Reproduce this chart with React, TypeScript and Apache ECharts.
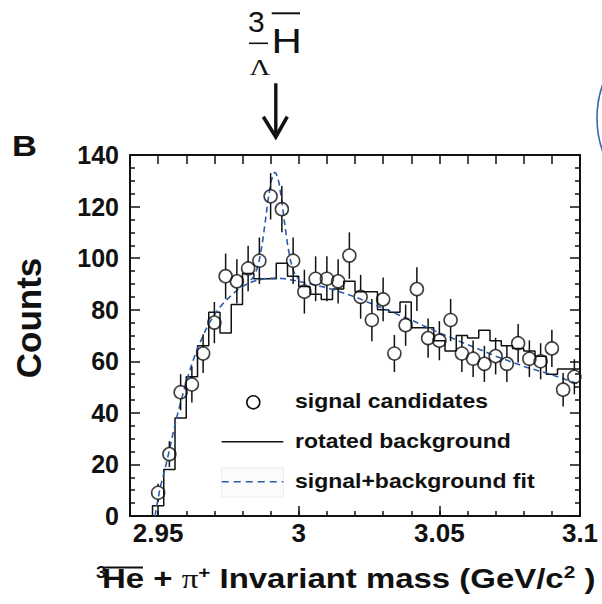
import React, { useEffect, useRef } from "react";
import * as echarts from "echarts";

// ---- data ----
const massCenters = [
  2.95, 2.954, 2.958, 2.962, 2.966, 2.97, 2.974, 2.978, 2.982, 2.986, 2.99, 2.994, 2.998,
  3.002, 3.006, 3.01, 3.014, 3.018, 3.022, 3.026, 3.03, 3.034, 3.038, 3.042, 3.046,
  3.05, 3.054, 3.058, 3.062, 3.066, 3.07, 3.074, 3.078, 3.082, 3.086, 3.09, 3.094, 3.098,
];
const signalCounts = [
  9, 24, 48, 51, 63, 75, 93, 91, 96, 99, 124, 119, 99,
  87, 92, 92, 91, 101, 85, 76, 84, 63, 74, 88, 69,
  68, 76, 63, 61, 59, 62, 59, 67, 61, 60, 65, 49, 54,
];
const signalErrors = [
  3.5, 5, 7, 7, 7.5, 8, 8.8, 8.6, 8.8, 9, 9, 9, 9,
  8.5, 8.7, 8.7, 8.6, 9, 8.5, 8.2, 8.5, 7.2, 8, 8.5, 7.6,
  7.6, 8.2, 7.2, 7.1, 7, 7.1, 7, 7.5, 7.1, 7, 7.2, 6.5, 6.8,
];
const rotatedBackground = [
  4, 18, 38, 54, 66, 79, 71, 82, 94, 92, 92, 98, 93,
  89, 86, 84, 88, 91, 87, 87, 80, 79, 83, 73, 73,
  68, 64, 70, 69, 72, 68, 66, 65, 64, 62, 55, 57, 57,
];
const binWidth = 0.004;

const fitBgMass = [
  2.9489, 2.9507, 2.9524, 2.954, 2.9555, 2.957, 2.9585, 2.96, 2.962, 2.964, 2.966, 2.968,
  2.97, 2.972, 2.974, 2.976, 2.978, 2.98, 2.982, 2.984, 2.986, 2.988, 2.99, 2.992, 2.995,
  3.0, 3.01, 3.02, 3.03, 3.04, 3.05, 3.06, 3.07, 3.08, 3.09, 3.1,
];
const fitBgCounts = [
  0, 11, 18, 25.5, 33, 40, 46, 52, 59, 65, 70, 74.5,
  78, 81, 83.5, 85.5, 87.5, 89, 90.2, 91, 91.6, 92, 92.2, 92.3, 92,
  91, 88.5, 85, 80.5, 76, 71, 66.5, 62, 58, 54.8, 51,
];
const fitPeakMass = [
  2.983, 2.984, 2.985, 2.986, 2.987, 2.988, 2.989, 2.99, 2.991, 2.9915, 2.992, 2.993,
  2.994, 2.995, 2.996, 2.997, 2.998, 2.999, 3.0,
];
const fitPeakCounts = [
  91.5, 92.8, 95.3, 99.4, 105.4, 113.3, 121.8, 129, 132.8, 133.3, 132.8, 129.2,
  121.9, 113.3, 105.4, 99.4, 95.4, 93, 91.8,
];
const xMajorTicks = [2.95, 3, 3.05, 3.1];

const SANS = '"Liberation Sans", Arial, Helvetica, sans-serif';
const SERIF = '"Liberation Serif", "Times New Roman", serif';
const INK = "#111";
const BLUE = "#2d5ca8";

export default function App() {
  const ref = useRef<HTMLDivElement>(null);

  useEffect(() => {
    const chart = echarts.init(ref.current!, null, { renderer: "svg" });

    const histData: number[][] = [[massCenters[0] - binWidth / 2, 0]];
    massCenters.forEach((m, i) => histData.push([m - binWidth / 2, rotatedBackground[i]]));
    histData.push([
      massCenters[massCenters.length - 1] + binWidth / 2,
      rotatedBackground[rotatedBackground.length - 1],
    ]);
    const pointData = massCenters.map((m, i) => [m, signalCounts[i], signalErrors[i]]);
    const bgFit = fitBgMass.map((m, i) => [m, fitBgCounts[i]]);
    const peakFit = fitPeakMass.map((m, i) => [m, fitPeakCounts[i]]);

    const axisLine = { show: true, onZero: false, lineStyle: { color: INK, width: 2 } };
    const tickStyle = { color: INK, width: 1.5 };
    const labelStyle = { color: INK, fontWeight: "bold" as const, fontFamily: SANS };
    const gridBox = { left: 130, top: 155, width: 450, height: 361 };
    const R = 6.5;

    const option: any = {
      animation: false,
      backgroundColor: "#fff",
      grid: [gridBox, gridBox],
      xAxis: [
        {
          type: "value", gridIndex: 0, position: "bottom", min: 2.94, max: 3.1, interval: 0.01,
          axisLine, axisTick: { show: true, inside: true, length: 5, lineStyle: tickStyle },
          axisLabel: {
            show: true, customValues: xMajorTicks, margin: 4, fontSize: 26, ...labelStyle,
            formatter: (v: number) => String(parseFloat(Number(v).toFixed(2))),
          },
          splitLine: { show: false },
        },
        {
          type: "value", gridIndex: 0, position: "top", min: 2.94, max: 3.1, interval: 0.01,
          axisLine, axisTick: { show: true, inside: true, length: 9, lineStyle: tickStyle },
          axisLabel: { show: false }, splitLine: { show: false },
        },
        {
          type: "value", gridIndex: 1, position: "bottom", min: 2.94, max: 3.1,
          axisLine: { show: false },
          axisTick: { show: true, inside: true, length: 10, customValues: xMajorTicks, lineStyle: tickStyle },
          axisLabel: { show: false }, splitLine: { show: false },
        },
      ],
      yAxis: [
        {
          type: "value", gridIndex: 0, position: "left", min: 0, max: 140, interval: 20,
          axisLine, axisTick: { show: true, inside: true, length: 10, lineStyle: tickStyle },
          minorTick: { show: true, splitNumber: 4, length: 5, lineStyle: tickStyle },
          axisLabel: { show: true, margin: 11, padding: [5, 0, 0, 0], fontSize: 25, ...labelStyle },
          splitLine: { show: false }, minorSplitLine: { show: false },
        },
        {
          type: "value", gridIndex: 0, position: "right", min: 0, max: 140, interval: 20,
          axisLine, axisTick: { show: true, inside: true, length: 10, lineStyle: tickStyle },
          minorTick: { show: true, splitNumber: 4, length: 5, lineStyle: tickStyle },
          axisLabel: { show: false }, splitLine: { show: false }, minorSplitLine: { show: false },
        },
        { type: "value", gridIndex: 1, min: 0, max: 140, show: false, splitLine: { show: false } },
      ],
      series: [
        {
          name: "rotated background", type: "line", xAxisIndex: 0, yAxisIndex: 0,
          data: histData, step: "end", symbol: "none", silent: true,
          lineStyle: { color: INK, width: 1.5 }, z: 2,
        },
        {
          name: "background fit", type: "line", xAxisIndex: 0, yAxisIndex: 0,
          data: bgFit, symbol: "none", silent: true,
          lineStyle: { color: BLUE, width: 1.6, type: [6, 4] }, z: 3,
        },
        {
          name: "signal+background fit", type: "line", xAxisIndex: 0, yAxisIndex: 0,
          data: peakFit, symbol: "none", silent: true,
          lineStyle: { color: BLUE, width: 1.6, type: [6, 4] }, z: 3,
        },
        {
          name: "errors", type: "custom", xAxisIndex: 0, yAxisIndex: 0, silent: true,
          data: pointData, encode: { x: 0, y: 1 }, z: 4,
          renderItem: (params: any, api: any) => {
            const x = api.value(0), y = api.value(1), e = api.value(2);
            const c = api.coord([x, y]);
            const t = api.coord([x, y + e]);
            const b = api.coord([x, y - e]);
            const children: any[] = [];
            const st = { stroke: INK, lineWidth: 1.5 };
            if (t[1] < c[1] - R) children.push({ type: "line", shape: { x1: c[0], y1: t[1], x2: c[0], y2: c[1] - R }, style: st });
            if (b[1] > c[1] + R) children.push({ type: "line", shape: { x1: c[0], y1: c[1] + R, x2: c[0], y2: b[1] }, style: st });
            return { type: "group", children };
          },
        },
        {
          name: "signal candidates", type: "scatter", xAxisIndex: 0, yAxisIndex: 0,
          data: pointData.map((d) => [d[0], d[1]]), symbol: "circle", symbolSize: 13, silent: true,
          itemStyle: { color: "rgba(0,0,0,0)", borderColor: INK, borderWidth: 1.6 }, z: 5,
        },
      ],
      graphic: [
        // panel letter
        { type: "text", x: 12, y: 145.6, scaleX: 1.15, style: { text: "B", fontSize: 30, fontWeight: "bold", fontFamily: SANS, fill: INK, align: "left", verticalAlign: "middle" } },
        // y-axis title
        { type: "text", x: 28.5, y: 318, rotation: Math.PI / 2, style: { text: "Counts", fontSize: 35, fontWeight: "bold", fontFamily: SANS, fill: INK, align: "center", verticalAlign: "middle" } },
        // x-axis title
        { type: "text", x: 96, y: 572, scaleX: 1.1, style: { text: "3", fontSize: 17, fontWeight: "bold", fontFamily: SANS, fill: INK, align: "left", verticalAlign: "middle" } },
        {
          type: "text", x: 102, y: 578.6, scaleX: 1.22,
          style: {
            text: "{b|He + }{pi|\u03c0}{s|+}{b| Invariant mass (GeV/c}{s|2}{b| )}",
            align: "left", verticalAlign: "middle", fill: INK,
            rich: {
              b: { fontSize: 27, fontWeight: "bold", fontFamily: SANS, fill: INK, lineHeight: 30 },
              pi: { fontSize: 27, fontFamily: SERIF, fill: INK, lineHeight: 30 },
              s: { fontSize: 17, fontWeight: "bold", fontFamily: SANS, fill: INK, lineHeight: 16, verticalAlign: "top" },
            },
          },
        },
        { type: "line", shape: { x1: 104.5, y1: 567.5, x2: 143, y2: 567.5 }, style: { stroke: INK, lineWidth: 2 } },
        // hypertriton label and arrow
        { type: "text", x: 248, y: 21.3, style: { text: "3", fontSize: 30, fontFamily: SANS, fill: INK, align: "left", verticalAlign: "middle" } },
        { type: "line", shape: { x1: 271.7, y1: 13.3, x2: 300, y2: 13.3 }, style: { stroke: INK, lineWidth: 2 } },
        { type: "text", x: 271.6, y: 41.2, scaleX: 1.2, style: { text: "H", fontSize: 35, fontFamily: SANS, fill: INK, align: "left", verticalAlign: "middle" } },
        { type: "line", shape: { x1: 249, y1: 43.3, x2: 268, y2: 43.3 }, style: { stroke: INK, lineWidth: 1.6 } },
        { type: "text", x: 260, y: 67.2, scaleX: 1.2, style: { text: "\u039b", fontSize: 24, fontFamily: SERIF, fill: INK, align: "center", verticalAlign: "middle" } },
        { type: "line", shape: { x1: 275.8, y1: 83.3, x2: 275.8, y2: 134 }, style: { stroke: INK, lineWidth: 3.4 } },
        { type: "polyline", shape: { points: [[263.3, 116.7], [275.8, 137], [287.3, 116.7]] }, style: { stroke: INK, lineWidth: 3.6, fill: "none" } },
        // legend
        { type: "circle", z: 100, shape: { cx: 253.3, cy: 402.3, r: R }, style: { fill: "none", stroke: INK, lineWidth: 1.6 } },
        { type: "text", z: 100, x: 295, y: 401, scaleX: 1.15, style: { text: "signal candidates", fontSize: 20, fontWeight: "bold", fontFamily: SANS, fill: INK, align: "left", verticalAlign: "middle" } },
        { type: "line", z: 100, shape: { x1: 221.7, y1: 441.7, x2: 283.3, y2: 441.7 }, style: { stroke: INK, lineWidth: 1.6 } },
        { type: "text", z: 100, x: 295, y: 441, scaleX: 1.15, style: { text: "rotated background", fontSize: 20, fontWeight: "bold", fontFamily: SANS, fill: INK, align: "left", verticalAlign: "middle" } },
        { type: "rect", z: 99, shape: { x: 221.5, y: 468, width: 62, height: 29 }, style: { fill: "#fbfbfb", stroke: "#ececec", lineWidth: 1 } },
        { type: "line", z: 100, shape: { x1: 221.7, y1: 481.7, x2: 283.3, y2: 481.7 }, style: { stroke: BLUE, lineWidth: 1.6, lineDash: [7, 5] } },
        { type: "text", z: 100, x: 295, y: 481, scaleX: 1.15, style: { text: "signal+background fit", fontSize: 20, fontWeight: "bold", fontFamily: SANS, fill: INK, align: "left", verticalAlign: "middle" } },
        // edge of neighbouring panel
        { type: "circle", shape: { cx: 697, cy: 118, r: 100 }, style: { fill: "none", stroke: "#3c63b5", lineWidth: 1.6 } },
      ],
    };

    chart.setOption(option);
    return () => chart.dispose();
  }, []);

  return (
    <div
      ref={ref}
      style={{ position: "absolute", left: 0, top: 0, width: 602, height: 604, background: "#fff" }}
    />
  );
}
